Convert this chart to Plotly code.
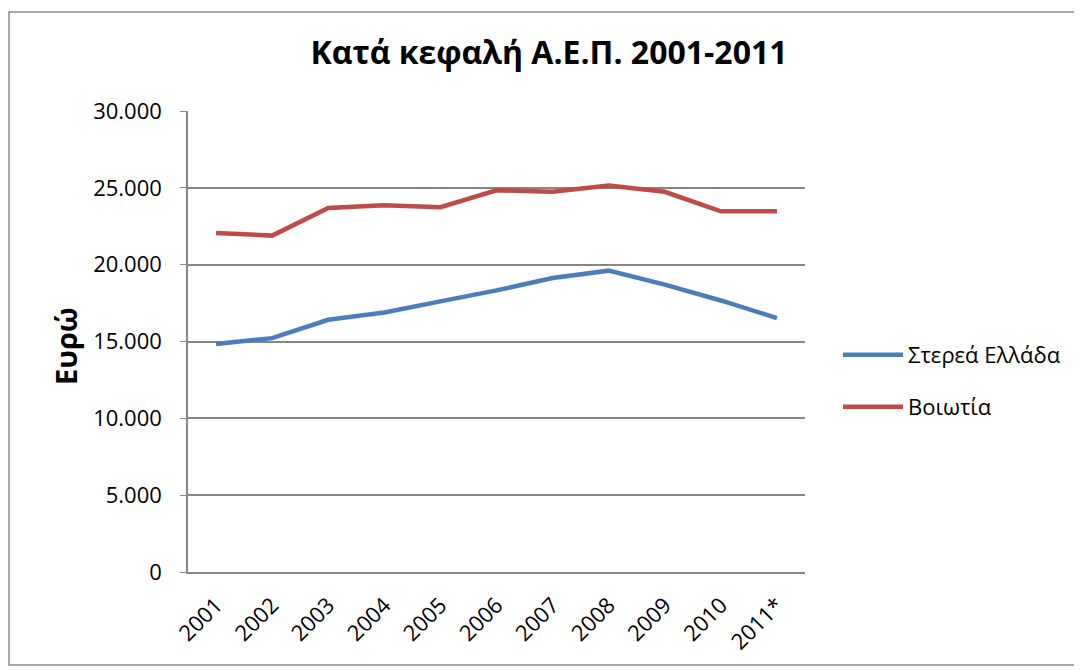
import plotly.graph_objects as go

years = ["2001", "2002", "2003", "2004", "2005", "2006", "2007", "2008", "2009", "2010", "2011*"]
sterea = [14830, 15220, 16415, 16890, 17610, 18325, 19130, 19610, 18700, 17670, 16525]
voiotia = [22065, 21890, 23695, 23865, 23735, 24840, 24740, 25150, 24740, 23475, 23475]

# page body adds an 8px offset, so layout positions are shifted back by 8
W, H = 1082, 670
L, T = 180, 103
R, B = W - 797, H - 564
pw, ph = W - L - R, H - T - B

FONT = "Open Sans, Noto Sans, sans-serif"
GRID = "#868686"


def px(x):
    return (x - L) / pw


def py(y):
    return 1 - (y - T) / ph


fig = go.Figure()
fig.add_trace(go.Scatter(x=years, y=sterea, mode="lines", name="Στερεά Ελλάδα",
                         line=dict(color="#4A7EBB", width=4.5), legend="legend"))
fig.add_trace(go.Scatter(x=years, y=voiotia, mode="lines", name="Βοιωτία",
                         line=dict(color="#BE4B48", width=4.5), legend="legend2"))

# outer chart border
fig.add_shape(type="rect", xref="paper", yref="paper",
              x0=px(1), x1=px(1067), y0=py(657), y1=py(4),
              line=dict(color="#8c8c8c", width=1.5), layer="below")

fig.add_annotation(text="<b>Ευρώ</b>", xref="paper", yref="paper",
                   x=px(57), y=py(338), textangle=-90, showarrow=False,
                   font=dict(size=29), xanchor="center", yanchor="middle")

leg = dict(xanchor="left", yanchor="middle", font=dict(size=22),
           itemwidth=60, bgcolor="rgba(0,0,0,0)")

fig.update_layout(
    width=W, height=H,
    paper_bgcolor="white", plot_bgcolor="white",
    margin=dict(l=L, r=R, t=T, b=B),
    separators=",.",
    font=dict(family=FONT, color="black"),
    title=dict(text="<b>Κατά κεφαλή Α.Ε.Π. 2001-2011</b>", x=541 / W, xanchor="center",
               y=1 - 45 / H, yanchor="middle", font=dict(size=32)),
    legend=dict(x=px(830), y=py(347), **leg),
    legend2=dict(x=px(830), y=py(399), **leg),
    showlegend=True,
)
fig.update_yaxes(range=[0, 30000], dtick=5000, tickformat=",",
                 showgrid=True, gridcolor=GRID, gridwidth=1.5,
                 showline=True, linecolor=GRID, linewidth=1.5,
                 ticks="outside", ticklen=6, tickcolor=GRID,
                 ticklabelstandoff=14,
                 tickfont=dict(size=22), zeroline=False)
fig.update_xaxes(type="category", range=[-0.5, 10.5],
                 showgrid=False, showline=True, linecolor=GRID, linewidth=1.5,
                 tickangle=-45, tickfont=dict(size=22), ticks="",
                 ticklabelstandoff=10)

fig.write_html("out.html")
